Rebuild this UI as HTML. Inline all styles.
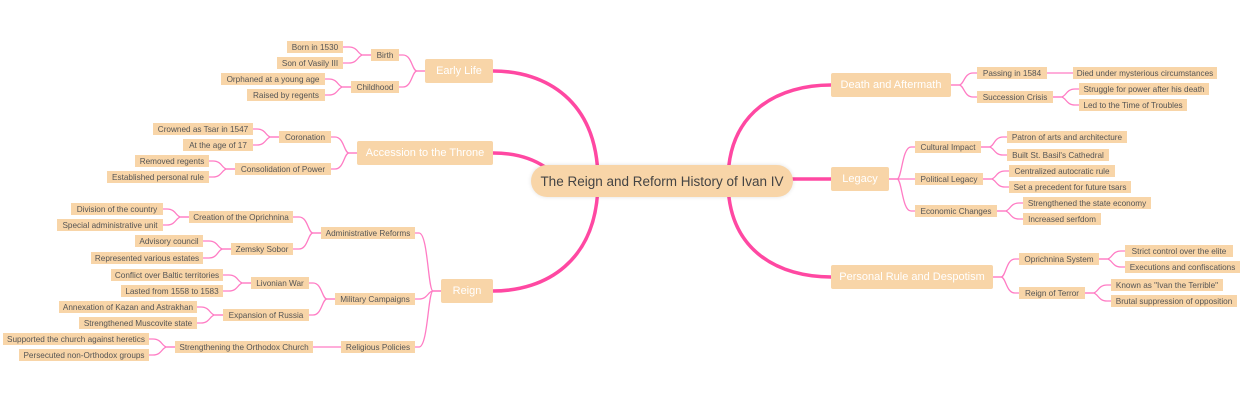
<!DOCTYPE html>
<html><head><meta charset="utf-8">
<style>
body{margin:0;width:1240px;height:400px;background:#fff;position:relative;overflow:hidden;font-family:"Liberation Sans",sans-serif}
svg{position:absolute;left:0;top:0}
.n{position:absolute;background:#f8d5a8;color:#555;font-size:8.2px;display:flex;align-items:center;justify-content:center;white-space:nowrap;height:12px;box-sizing:border-box}
.m{color:#fff;font-size:11px;height:24px;border-radius:2px}
.c{color:#444;font-size:13.5px;height:32px;border-radius:16px;box-shadow:0 0 4px rgba(0,0,0,0.12)}
</style></head><body>
<svg id="s" width="1240" height="400">
<g fill="none" stroke="#ff48a2" stroke-width="3.5" stroke-linecap="round">
<path d="M598,181 C598,100 545,71 493,71"/>
<path d="M598,181 C598,262 545,291 493,291"/>
<path d="M545,167 C530,157 512,153 493,153"/>
<path d="M728,181 C728,110 780,85 831,85"/>
<path d="M728,181 C728,252 780,277 831,277"/>
<path d="M793,179 L831,179"/>
</g>
<g id="thin" fill="none" stroke="#ff7cc4" stroke-width="1.3"></g>
</svg>
<div class="n c" style="left:531px;top:165px;width:262px">The Reign and Reform History of Ivan IV</div>

<div class="n m" id="el" style="left:425px;top:59px;width:68px">Early Life</div>
<div class="n m" id="ac" style="left:357px;top:141px;width:136px">Accession to the Throne</div>
<div class="n m" id="re" style="left:441px;top:279px;width:52px">Reign</div>
<div class="n m" id="da" style="left:831px;top:73px;width:120px">Death and Aftermath</div>
<div class="n m" id="lg" style="left:831px;top:167px;width:58px">Legacy</div>
<div class="n m" id="pr" style="left:831px;top:265px;width:162px">Personal Rule and Despotism</div>

<div class="n" id="bi" data-p="el" style="left:371px;top:49px;width:28px">Birth</div>
<div class="n" id="ch" data-p="el" style="left:351px;top:81px;width:48px">Childhood</div>
<div class="n" data-p="bi" style="left:287px;top:41px;width:56px">Born in 1530</div>
<div class="n" data-p="bi" style="left:277px;top:57px;width:66px">Son of Vasily III</div>
<div class="n" data-p="ch" style="left:221px;top:73px;width:104px">Orphaned at a young age</div>
<div class="n" data-p="ch" style="left:247px;top:89px;width:78px">Raised by regents</div>

<div class="n" id="co" data-p="ac" style="left:279px;top:131px;width:52px">Coronation</div>
<div class="n" id="cp" data-p="ac" style="left:235px;top:163px;width:96px">Consolidation of Power</div>
<div class="n" data-p="co" style="left:153px;top:123px;width:100px">Crowned as Tsar in 1547</div>
<div class="n" data-p="co" style="left:183px;top:139px;width:70px">At the age of 17</div>
<div class="n" data-p="cp" style="left:135px;top:155px;width:74px">Removed regents</div>
<div class="n" data-p="cp" style="left:107px;top:171px;width:102px">Established personal rule</div>

<div class="n" id="ar" data-p="re" style="left:321px;top:227px;width:94px">Administrative Reforms</div>
<div class="n" id="mc" data-p="re" style="left:335px;top:293px;width:80px">Military Campaigns</div>
<div class="n" id="rp" data-p="re" style="left:341px;top:341px;width:74px">Religious Policies</div>
<div class="n" id="op" data-p="ar" style="left:189px;top:211px;width:104px">Creation of the Oprichnina</div>
<div class="n" id="zs" data-p="ar" style="left:231px;top:243px;width:62px">Zemsky Sobor</div>
<div class="n" data-p="op" style="left:71px;top:203px;width:92px">Division of the country</div>
<div class="n" data-p="op" style="left:57px;top:219px;width:106px">Special administrative unit</div>
<div class="n" data-p="zs" style="left:135px;top:235px;width:68px">Advisory council</div>
<div class="n" data-p="zs" style="left:91px;top:252px;width:112px">Represented various estates</div>
<div class="n" id="lw" data-p="mc" style="left:251px;top:277px;width:58px">Livonian War</div>
<div class="n" id="ex" data-p="mc" style="left:223px;top:309px;width:86px">Expansion of Russia</div>
<div class="n" data-p="lw" style="left:111px;top:269px;width:112px">Conflict over Baltic territories</div>
<div class="n" data-p="lw" style="left:121px;top:285px;width:102px">Lasted from 1558 to 1583</div>
<div class="n" data-p="ex" style="left:59px;top:301px;width:138px">Annexation of Kazan and Astrakhan</div>
<div class="n" data-p="ex" style="left:79px;top:317px;width:118px">Strengthened Muscovite state</div>
<div class="n" id="so" data-p="rp" style="left:175px;top:341px;width:138px">Strengthening the Orthodox Church</div>
<div class="n" data-p="so" style="left:3px;top:333px;width:146px">Supported the church against heretics</div>
<div class="n" data-p="so" style="left:19px;top:349px;width:130px">Persecuted non-Orthodox groups</div>

<div class="n" id="pa" data-p="da" style="left:977px;top:67px;width:70px">Passing in 1584</div>
<div class="n" id="sc" data-p="da" style="left:977px;top:91px;width:76px">Succession Crisis</div>
<div class="n" data-p="pa" style="left:1073px;top:67px;width:144px">Died under mysterious circumstances</div>
<div class="n" data-p="sc" style="left:1079px;top:83px;width:130px">Struggle for power after his death</div>
<div class="n" data-p="sc" style="left:1079px;top:99px;width:108px">Led to the Time of Troubles</div>

<div class="n" id="ci" data-p="lg" style="left:915px;top:141px;width:66px">Cultural Impact</div>
<div class="n" id="pl" data-p="lg" style="left:915px;top:173px;width:68px">Political Legacy</div>
<div class="n" id="ec" data-p="lg" style="left:915px;top:205px;width:82px">Economic Changes</div>
<div class="n" data-p="ci" style="left:1007px;top:131px;width:120px">Patron of arts and architecture</div>
<div class="n" data-p="ci" style="left:1007px;top:149px;width:102px">Built St. Basil's Cathedral</div>
<div class="n" data-p="pl" style="left:1009px;top:165px;width:106px">Centralized autocratic rule</div>
<div class="n" data-p="pl" style="left:1009px;top:181px;width:122px">Set a precedent for future tsars</div>
<div class="n" data-p="ec" style="left:1023px;top:197px;width:128px">Strengthened the state economy</div>
<div class="n" data-p="ec" style="left:1023px;top:213px;width:78px">Increased serfdom</div>

<div class="n" id="os" data-p="pr" style="left:1019px;top:253px;width:80px">Oprichnina System</div>
<div class="n" id="rt" data-p="pr" style="left:1019px;top:287px;width:66px">Reign of Terror</div>
<div class="n" data-p="os" style="left:1125px;top:245px;width:108px">Strict control over the elite</div>
<div class="n" data-p="os" style="left:1125px;top:261px;width:115px">Executions and confiscations</div>
<div class="n" data-p="rt" style="left:1111px;top:279px;width:112px">Known as "Ivan the Terrible"</div>
<div class="n" data-p="rt" style="left:1111px;top:295px;width:126px">Brutal suppression of opposition</div>

<script>
var g=document.getElementById('thin'),s='';
document.querySelectorAll('[data-p]').forEach(function(c){
 var p=document.getElementById(c.getAttribute('data-p'));
 var pl=p.offsetLeft,pr=pl+p.offsetWidth,py=p.offsetTop+p.offsetHeight/2;
 var cl=c.offsetLeft,cr=cl+c.offsetWidth,cy=c.offsetTop+c.offsetHeight/2;
 var d;
 if(cl>pr){var j=pr+8;d='M'+pr+','+py+' H'+j+' C'+(j+5)+','+py+' '+(j+5)+','+cy+' '+(j+14)+','+cy+' H'+cl;}
 else{var j=pl-8;d='M'+pl+','+py+' H'+j+' C'+(j-5)+','+py+' '+(j-5)+','+cy+' '+(j-14)+','+cy+' H'+cr;}
 s+='<path d="'+d+'"/>';
});
g.innerHTML=s;
</script>
</body></html>
